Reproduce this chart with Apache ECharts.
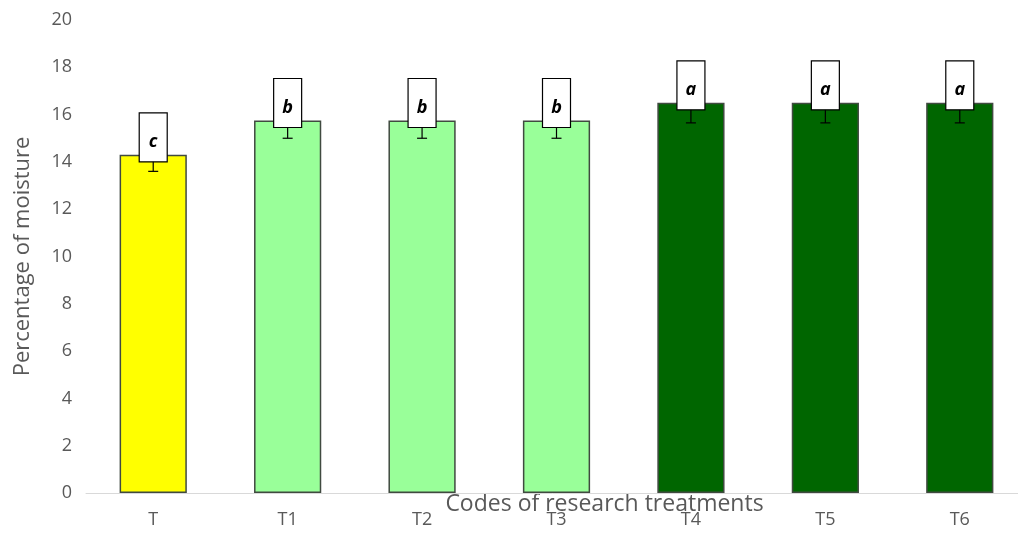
<!DOCTYPE html>
<html>
<head>
<meta charset="utf-8">
<script src="https://cdn.jsdelivr.net/npm/echarts@6/dist/echarts.min.js"></script>
<style>
  html, body { margin: 0; padding: 0; background: #ffffff; }
  #chart { width: 1018px; height: 533px; }
</style>
</head>
<body>
<div id="chart"></div>
<script>
// Treatment codes and mean moisture (%) with standard error and group letters
const categories = ['T', 'T1', 'T2', 'T3', 'T4', 'T5', 'T6'];
const moisture = [14.3, 15.75, 15.75, 15.75, 16.5, 16.5, 16.5];
const errors = [0.7, 0.75, 0.75, 0.75, 0.85, 0.85, 0.85];
const groups = ['c', 'b', 'b', 'b', 'a', 'a', 'a'];
const barColors = ['#ffff00', '#99ff99', '#99ff99', '#99ff99', '#006600', '#006600', '#006600'];
const yTicks = [0, 2, 4, 6, 8, 10, 12, 14, 16, 18, 20];

const FONT = "'Open Sans', 'Noto Sans', sans-serif";

const chart = echarts.init(document.getElementById('chart'));

const errorData = categories.map((c, i) => [i, moisture[i], errors[i], groups[i]]);

chart.setOption({
  animation: false,
  grid: { left: 86, right: -9, top: 20, bottom: 40, containLabel: false, outerBoundsMode: 'none' },
  xAxis: {
    type: 'category',
    data: categories,
    name: 'Codes of research treatments',
    nameLocation: 'middle',
    nameGap: 0,
    nameMoveOverlap: false,
    nameTextStyle: { color: '#595959', fontSize: 23, fontFamily: FONT, padding: [0, 0, 0, 96] },
    axisLine: { lineStyle: { color: '#d9d9d9', width: 1 } },
    axisTick: { show: false },
    axisLabel: { color: '#595959', fontSize: 18, fontFamily: FONT, margin: 18 }
  },
  yAxis: {
    type: 'value',
    min: yTicks[0],
    max: yTicks[yTicks.length - 1],
    interval: 2,
    name: 'Percentage of moisture',
    nameLocation: 'middle',
    nameRotate: 90,
    nameGap: 52,
    nameMoveOverlap: false,
    nameTextStyle: { color: '#595959', fontSize: 22, fontFamily: FONT },
    axisLine: { show: false },
    axisTick: { show: false },
    splitLine: { show: false },
    axisLabel: { color: '#595959', fontSize: 18, fontFamily: FONT, margin: 14 }
  },
  series: [
    {
      type: 'bar',
      barWidth: '50%',
      data: moisture.map((v, i) => ({
        value: v,
        itemStyle: { color: barColors[i], borderColor: '#404a40', borderWidth: 1.5 }
      })),
      z: 2
    },
    {
      type: 'custom',
      data: errorData,
      z: 5,
      renderItem: function (params, api) {
        const idx = api.value(0);
        const val = api.value(1);
        const err = api.value(2);
        const letter = groups[params.dataIndex];
        const top = api.coord([idx, val]);
        const lo = api.coord([idx, val - err]);
        const hi = api.coord([idx, val + err]);
        const cx = top[0];
        const capW = 5;
        const boxW = 28, boxH = 49;
        const boxBottom = top[1] + 7;
        const lineStyle = { stroke: '#000000', lineWidth: 1.2 };
        return {
          type: 'group',
          children: [
            { type: 'line', shape: { x1: cx, y1: lo[1], x2: cx, y2: hi[1] }, style: lineStyle },
            { type: 'line', shape: { x1: cx - capW, y1: lo[1], x2: cx + capW, y2: lo[1] }, style: lineStyle },
            { type: 'line', shape: { x1: cx - capW, y1: hi[1], x2: cx + capW, y2: hi[1] }, style: lineStyle },
            {
              type: 'rect',
              shape: { x: cx - boxW / 2, y: boxBottom - boxH, width: boxW, height: boxH },
              style: { fill: '#ffffff', stroke: '#000000', lineWidth: 1.2 }
            },
            {
              type: 'text',
              x: cx,
              y: boxBottom - boxH / 2 + 5,
              style: {
                text: letter,
                fill: '#000000',
                font: "italic bold 18px 'Open Sans', 'Noto Sans', sans-serif",
                align: 'center',
                verticalAlign: 'middle'
              }
            }
          ]
        };
      }
    }
  ]
});
</script>
</body>
</html>
